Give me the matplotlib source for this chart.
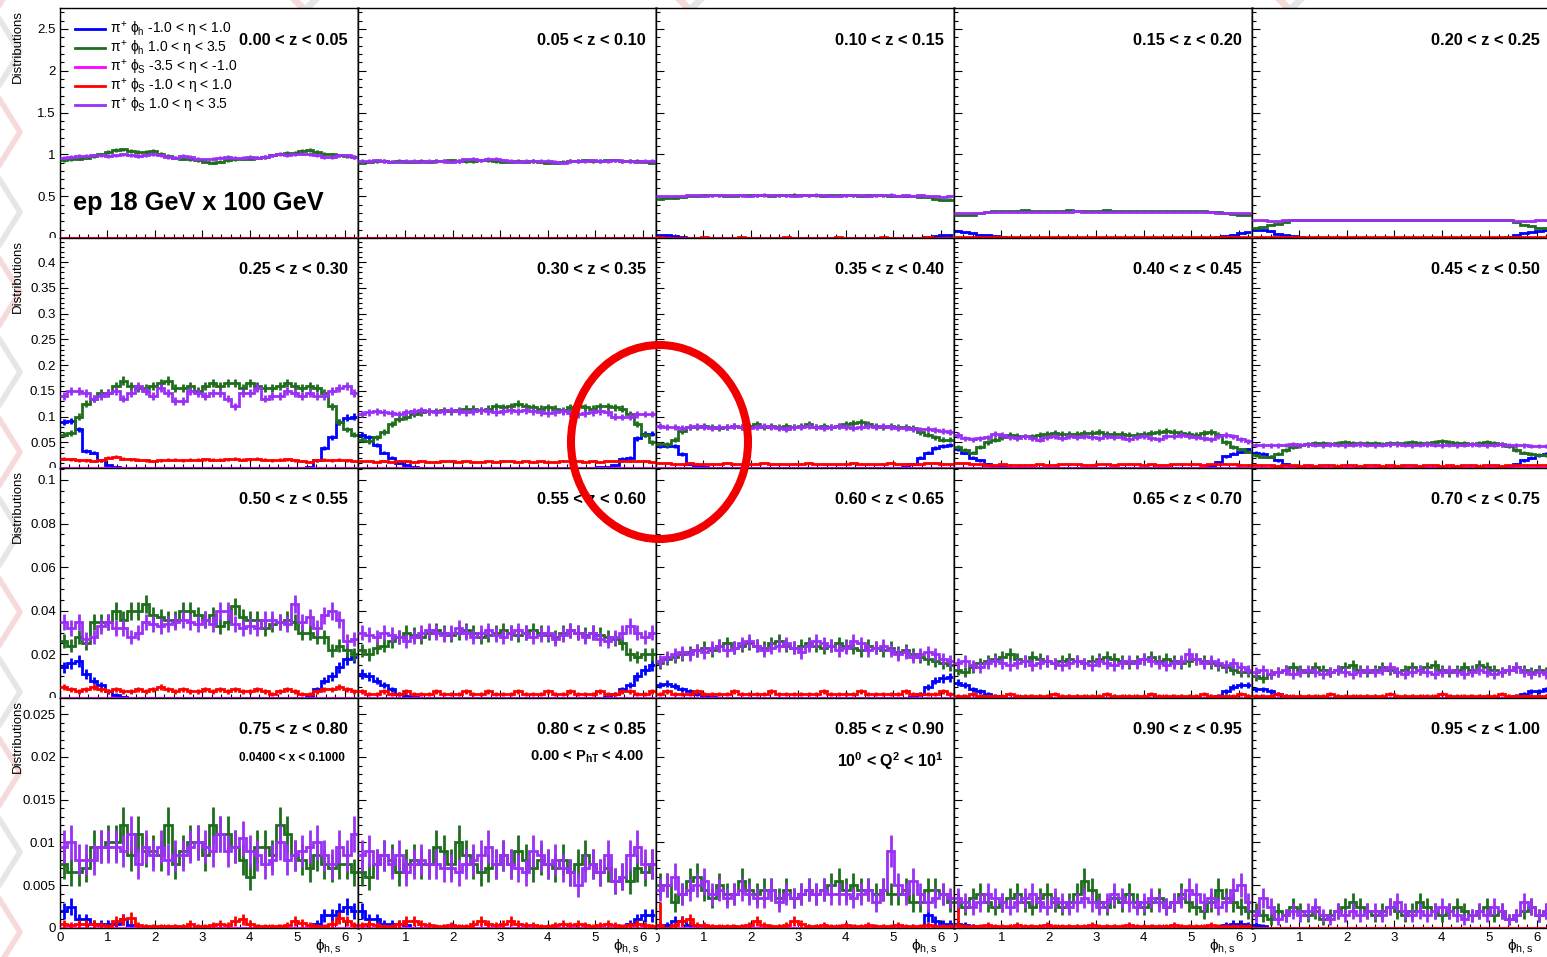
import numpy as np
import matplotlib
matplotlib.use('Agg')
import matplotlib.pyplot as plt
from matplotlib.lines import Line2D
from matplotlib.patches import Ellipse
from matplotlib.ticker import MultipleLocator, FuncFormatter
from matplotlib.transforms import Bbox, TransformedBbox

plt.rcParams['font.family'] = ['Liberation Sans', 'DejaVu Sans']
plt.rcParams['mathtext.fontset'] = 'custom'
plt.rcParams['mathtext.rm'] = 'Liberation Sans'
plt.rcParams['mathtext.it'] = 'Liberation Sans'
plt.rcParams['mathtext.bf'] = 'Liberation Sans:bold'

# ---- labels -------------------------------------------------------------
Z_LABELS = ['0.00 < z < 0.05', '0.05 < z < 0.10', '0.10 < z < 0.15', '0.15 < z < 0.20', '0.20 < z < 0.25',
            '0.25 < z < 0.30', '0.30 < z < 0.35', '0.35 < z < 0.40', '0.40 < z < 0.45', '0.45 < z < 0.50',
            '0.50 < z < 0.55', '0.55 < z < 0.60', '0.60 < z < 0.65', '0.65 < z < 0.70', '0.70 < z < 0.75',
            '0.75 < z < 0.80', '0.80 < z < 0.85', '0.85 < z < 0.90', '0.90 < z < 0.95', '0.95 < z < 1.00']
LEGEND = [r'$\pi^{+}$ $\phi_{h}$ -1.0 < $\eta$ < 1.0',
          r'$\pi^{+}$ $\phi_{h}$ 1.0 < $\eta$ < 3.5',
          r'$\pi^{+}$ $\phi_{S}$ -3.5 < $\eta$ < -1.0',
          r'$\pi^{+}$ $\phi_{S}$ -1.0 < $\eta$ < 1.0',
          r'$\pi^{+}$ $\phi_{S}$ 1.0 < $\eta$ < 3.5']
COLORS = ['#0000ff', '#1e6e1e', '#ff00ff', '#ff0000', '#9a30f5']

# ---- y axes per row ----------------------------------------------------------
ROW_UNIT = [0.01, 0.001, 0.0001, 0.0001]      # values below are in these units
ROW_YMAX = [2.75, 0.447, 0.1055, 0.0269]
ROW_MAJOR = [0.5, 0.05, 0.02, 0.005]
ROW_MINOR = [0.1, 0.01, 0.005, 0.001]

N_BINS = 40
ERR_K = 0.02           # error bar = ERR_K * sqrt(content)
ERR_FIX = {(17, 3, 0): 0.0027, (18, 3, 0): 0.0038}   # (panel, series, bin): error

# ---- histogram contents (one row per z bin) ---------------------------------
BLUE = [
    [0] * 40,
    [0] * 40,
    [3, 3, 2, 1, 0.5, 0.2] + [0] * 28 + [0.2, 0.5, 1, 2, 3, 3],
    [8, 7, 6, 4, 3, 2, 1, 0.5, 0.2] + [0] * 24 + [0.2, 0.5, 1, 2, 4, 6, 7],
    [9, 9, 8, 5, 3, 2, 1, 0.5, 0.2] + [0] * 24 + [0.5, 1, 3, 6, 7, 8, 9],
    [90, 92, 75, 33, 30, 15, 5, 2] + [0] * 25 + [2, 15, 38, 60, 90, 98, 100],
    [65, 60, 45, 30, 20, 10, 5, 2] + [0] * 24 + [1, 2, 5, 18, 20, 58, 66, 67],
    [43, 43, 43, 27, 8, 3, 1] + [0] * 26 + [2, 8, 20, 30, 38, 42, 45],
    [36, 30, 20, 15, 8, 4, 2] + [0] * 27 + [3, 12, 23, 28, 32, 36],
    [30, 28, 22, 15, 8, 4, 2] + [0] * 27 + [3, 8, 15, 20, 25, 28],
    [140, 160, 170, 110, 80, 60, 30, 15, 5] + [0] * 24 + [10, 40, 80, 100, 140, 180, 190],
    [110, 100, 80, 60, 40, 20, 10, 5] + [0] * 25 + [5, 20, 40, 60, 100, 130, 150],
    [60, 65, 55, 40, 30, 20, 10, 5] + [0] * 26 + [5, 20, 50, 80, 90, 95],
    [70, 60, 40, 30, 20, 10, 5] + [0] * 28 + [10, 30, 50, 60, 60],
    [40, 40, 30, 20, 10, 5] + [0] * 29 + [10, 20, 30, 30, 40],
    [20, 25, 10, 10, 5, 5, 5, 5, 10, 3] + [0] * 24 + [5, 15, 15, 20, 25, 20],
    [20, 10, 10, 5, 5, 5, 3] + [0] * 29 + [5, 10, 15, 15],
    [3, 3, 8, 8, 3, 2] + [0] * 30 + [15, 8, 5, 5],
    [5, 3, 2] + [0] * 33 + [3, 5, 5, 3],
    [3, 2] + [0] * 38,
]

GREEN = [
    [93, 94, 95, 96, 98, 100, 103, 105, 106, 104, 103, 103, 104, 101, 98, 96, 95, 94, 93, 91,
     90, 91, 93, 94, 95, 95, 96, 97, 99, 101, 102, 102, 104, 105, 103, 101, 100, 99, 98, 97],
    [90, 91, 92, 92, 91, 92, 91, 91, 92, 91, 92, 92, 93, 92, 92, 92, 93, 93, 92, 91,
     91, 92, 91, 92, 91, 90, 90, 91, 92, 92, 93, 92, 92, 93, 93, 92, 92, 92, 91, 90],
    [47, 48, 48, 49, 50, 50, 51, 51, 51, 50, 50, 51, 51, 51, 51, 50, 51, 51, 52, 51,
     51, 51, 50, 51, 51, 51, 51, 50, 51, 51, 51, 50, 50, 50, 50, 49, 49, 47, 45, 46],
    [27, 27, 28, 30, 31, 32, 32, 32, 32, 33, 32, 32, 32, 32, 32, 33, 32, 32, 32, 32,
     33, 32, 32, 32, 32, 32, 32, 32, 32, 32, 32, 32, 32, 32, 31, 31, 30, 29, 28, 28],
    [12, 13, 16, 17, 19, 21, 21, 22, 22, 22, 22, 22, 22, 22, 22, 22, 22, 22, 22, 22,
     22, 22, 22, 22, 22, 22, 22, 22, 22, 22, 22, 22, 22, 22, 21, 19, 16, 14, 12, 12],
    [65, 68, 100, 125, 135, 145, 145, 160, 170, 160, 155, 155, 160, 165, 170, 155, 155, 160, 150, 160,
     165, 160, 165, 165, 155, 165, 160, 155, 155, 160, 165, 160, 155, 160, 155, 145, 120, 90, 75, 65],
    [55, 52, 60, 70, 85, 95, 100, 105, 108, 110, 110, 112, 110, 112, 115, 115, 112, 115, 120, 118,
     120, 125, 120, 118, 115, 118, 115, 112, 118, 120, 118, 115, 120, 120, 118, 115, 105, 85, 65, 50],
    [47, 46, 55, 72, 80, 80, 82, 80, 78, 80, 82, 80, 82, 85, 80, 82, 80, 82, 80, 82,
     85, 80, 82, 80, 82, 85, 88, 90, 85, 82, 80, 82, 80, 80, 78, 70, 65, 60, 55, 55],
    [40, 35, 30, 40, 50, 55, 60, 65, 63, 62, 62, 64, 66, 68, 66, 66, 66, 68, 68, 70,
     66, 66, 66, 65, 64, 66, 68, 70, 72, 70, 68, 66, 64, 68, 70, 65, 50, 40, 36, 32],
    [25, 22, 22, 28, 35, 40, 44, 46, 48, 48, 47, 48, 50, 48, 48, 49, 48, 47, 48, 49,
     48, 50, 49, 48, 50, 52, 50, 48, 49, 47, 48, 50, 48, 46, 42, 35, 30, 28, 26, 25],
    [260, 240, 280, 250, 350, 350, 350, 400, 360, 400, 400, 430, 380, 370, 360, 360, 400, 400, 380, 360,
     380, 330, 350, 420, 370, 360, 360, 320, 340, 350, 360, 350, 300, 300, 280, 280, 220, 240, 220, 200],
    [220, 200, 230, 240, 260, 280, 300, 290, 280, 300, 310, 300, 290, 300, 310, 300, 280, 290, 300, 310,
     300, 290, 300, 310, 300, 290, 280, 300, 310, 300, 290, 300, 290, 280, 270, 250, 200, 190, 200, 200],
    [160, 180, 190, 200, 210, 220, 230, 220, 240, 250, 230, 240, 250, 240, 230, 250, 260, 240, 230, 240,
     250, 240, 230, 240, 250, 240, 230, 220, 240, 230, 220, 230, 210, 220, 200, 190, 180, 170, 160, 150],
    [130, 120, 140, 160, 170, 180, 190, 200, 180, 170, 190, 180, 170, 160, 170, 180, 170, 160, 170, 180,
     190, 180, 170, 160, 170, 180, 190, 170, 180, 170, 160, 170, 180, 170, 160, 150, 140, 130, 120, 120],
    [100, 90, 110, 120, 130, 140, 130, 120, 140, 130, 120, 130, 140, 150, 130, 120, 130, 140, 130, 120,
     130, 140, 130, 140, 150, 130, 120, 130, 140, 130, 150, 140, 130, 120, 130, 140, 130, 120, 130, 120],
    [75, 65, 65, 70, 95, 95, 100, 100, 120, 85, 110, 90, 90, 85, 120, 75, 90, 100, 100, 85,
     120, 110, 110, 95, 80, 60, 95, 95, 85, 120, 110, 85, 80, 70, 85, 75, 70, 75, 75, 65],
    [65, 60, 75, 85, 80, 65, 75, 80, 75, 75, 95, 90, 75, 100, 85, 75, 65, 70, 75, 85,
     75, 90, 80, 70, 80, 75, 70, 80, 65, 75, 85, 75, 65, 70, 55, 60, 55, 70, 65, 75],
    [50, 50, 30, 40, 55, 60, 45, 35, 50, 40, 40, 55, 45, 40, 45, 45, 35, 45, 35, 40,
     45, 40, 45, 50, 55, 45, 50, 45, 45, 40, 45, 40, 40, 45, 30, 30, 45, 45, 40, 30],
    [30, 25, 35, 40, 30, 25, 30, 35, 40, 30, 25, 35, 40, 30, 25, 30, 40, 55, 45, 30,
     25, 35, 30, 40, 30, 25, 30, 35, 25, 30, 40, 30, 25, 20, 30, 45, 35, 30, 25, 20],
    [20, 15, 10, 20, 15, 25, 20, 15, 20, 10, 15, 20, 25, 30, 25, 20, 15, 20, 25, 20,
     15, 20, 30, 25, 20, 15, 20, 25, 20, 15, 20, 25, 15, 20, 10, 15, 20, 25, 15, 20],
]

# pi+ phi_S -3.5 < eta < -1.0 : empty in every z bin
MAGENTA = [[0] * 40 for _ in range(20)]

RED = [
    [0] * 40,
    [0] * 40,
    [0.6, 0.5, 0.5, 0.4, 0.5, 0.5, 0.6, 0.5, 0.4, 0.5, 0.5, 0.6, 0.5, 0.5, 0.4, 0.5, 0.5, 0.6, 0.5, 0.5,
     0.5, 0.4, 0.5, 0.5, 0.6, 0.5, 0.5, 0.4, 0.5, 0.5, 0.6, 0.5, 0.5, 0.5, 0.4, 0.5, 0.6, 0.5, 0.5, 0.5],
    [1.2, 1.1, 1.0, 1.0, 1.1, 1.0, 0.9, 1.0, 1.1, 1.0, 1.0, 0.9, 1.0, 1.1, 1.0, 1.0, 0.9, 1.0, 1.0, 1.1,
     1.0, 1.0, 0.9, 1.0, 1.0, 1.1, 1.0, 1.0, 0.9, 1.0, 1.0, 1.1, 1.0, 1.0, 1.0, 0.9, 1.0, 1.1, 1.1, 1.0],
    [1.2, 1.1, 1.0, 1.0, 1.0, 1.1, 1.0, 0.9, 1.0, 1.0, 1.1, 1.0, 1.0, 0.9, 1.0, 1.0, 1.1, 1.0, 1.0, 1.0,
     0.9, 1.0, 1.0, 1.1, 1.0, 1.0, 1.0, 0.9, 1.0, 1.0, 1.1, 1.0, 1.0, 1.0, 1.0, 1.1, 1.0, 1.0, 1.1, 1.0],
    [18, 17, 15, 15, 14, 15, 20, 22, 18, 17, 16, 15, 14, 15, 16, 16, 15, 16, 16, 17,
     16, 16, 17, 18, 16, 17, 18, 16, 15, 16, 17, 15, 13, 12, 15, 16, 15, 16, 15, 14],
    [14, 13, 12, 13, 12, 14, 13, 12, 13, 12, 12, 13, 14, 12, 13, 12, 12, 13, 12, 13,
     14, 12, 13, 12, 13, 12, 12, 13, 14, 13, 12, 13, 12, 13, 14, 13, 14, 14, 13, 12],
    [10, 9, 8, 8, 9, 8, 7, 8, 8, 9, 8, 8, 7, 8, 9, 8, 8, 7, 8, 8,
     9, 8, 8, 7, 8, 8, 9, 8, 8, 7, 8, 9, 8, 8, 7, 8, 9, 9, 8, 8],
    [10, 9, 8, 7, 6, 6, 7, 6, 5, 6, 6, 7, 6, 6, 7, 8, 7, 6, 6, 7,
     7, 6, 7, 8, 7, 6, 7, 6, 6, 7, 8, 7, 7, 6, 7, 8, 7, 7, 6, 6],
    [6, 5, 5, 4, 5, 5, 4, 5, 4, 5, 5, 4, 5, 5, 4, 5, 5, 4, 5, 4,
     5, 5, 4, 5, 5, 4, 5, 4, 5, 5, 4, 5, 5, 4, 5, 5, 6, 5, 5, 5],
    [50, 40, 30, 40, 50, 40, 30, 40, 30, 30, 40, 30, 40, 50, 40, 30, 40, 30, 30, 40,
     30, 40, 30, 40, 30, 30, 40, 30, 20, 30, 40, 30, 20, 20, 30, 40, 40, 50, 40, 30],
    [30, 20, 20, 30, 20, 20, 30, 20, 20, 20, 30, 20, 20, 20, 30, 20, 20, 30, 20, 20,
     20, 30, 20, 20, 20, 30, 20, 20, 30, 20, 20, 20, 30, 20, 20, 30, 30, 20, 20, 30],
    [20, 30, 20, 20, 20, 30, 20, 20, 20, 20, 30, 20, 20, 20, 20, 30, 20, 20, 20, 20,
     20, 20, 30, 20, 20, 20, 20, 30, 20, 20, 20, 20, 20, 30, 20, 20, 20, 20, 30, 20],
    [10, 10, 20, 10, 10, 10, 10, 20, 10, 10, 10, 10, 10, 20, 10, 10, 10, 10, 10, 10,
     20, 10, 10, 10, 10, 10, 20, 10, 10, 10, 10, 10, 10, 20, 10, 10, 10, 10, 20, 10],
    [10, 10, 10, 20, 10, 10, 10, 10, 10, 10, 20, 10, 10, 10, 10, 10, 10, 10, 20, 10,
     10, 10, 10, 10, 10, 20, 10, 10, 10, 10, 10, 10, 10, 20, 10, 10, 10, 10, 10, 10],
    [5, 3, 5, 5, 5, 3, 2, 8, 10, 12, 3, 2, 2, 2, 2, 2, 2, 5, 2, 2,
     3, 5, 3, 8, 10, 5, 2, 2, 2, 2, 3, 8, 6, 3, 2, 2, 5, 12, 8, 3],
    [3, 5, 3, 2, 2, 5, 8, 8, 5, 3, 2, 2, 3, 2, 2, 5, 8, 5, 3, 5,
     8, 5, 3, 3, 2, 2, 3, 5, 3, 5, 3, 2, 3, 5, 3, 2, 3, 5, 3, 2],
    [3, 0, 3, 8, 10, 3, 3, 2, 2, 2, 2, 2, 3, 8, 3, 2, 2, 3, 8, 5,
     2, 2, 3, 2, 2, 3, 2, 2, 3, 2, 2, 2, 3, 2, 2, 2, 3, 2, 2, 2],
    [3, 2, 2, 2, 3, 2, 2, 2, 3, 2, 2, 2, 3, 2, 2, 2, 2, 2, 3, 2,
     2, 2, 2, 3, 2, 2, 2, 2, 2, 3, 2, 2, 2, 2, 3, 2, 2, 2, 2, 2],
    [0] * 40,
]

PURPLE = [
    [96, 97, 98, 98, 99, 99, 98, 99, 100, 99, 98, 99, 100, 99, 97, 96, 98, 97, 95, 94,
     95, 96, 97, 96, 96, 97, 96, 97, 99, 100, 99, 100, 101, 100, 99, 97, 97, 99, 99, 97],
    [92, 92, 93, 92, 91, 91, 92, 92, 91, 92, 92, 92, 91, 92, 94, 95, 93, 95, 95, 93,
     92, 91, 92, 92, 92, 92, 91, 90, 92, 92, 92, 93, 92, 92, 93, 92, 92, 91, 92, 92],
    [50, 50, 50, 50, 51, 51, 50, 51, 51, 51, 51, 51, 50, 51, 52, 51, 51, 51, 50, 51,
     51, 52, 51, 50, 50, 51, 51, 51, 50, 51, 51, 52, 50, 51, 50, 51, 50, 50, 49, 50],
    [30, 30, 30, 30, 31, 31, 31, 31, 31, 31, 31, 31, 31, 31, 31, 31, 32, 31, 31, 31,
     31, 31, 31, 31, 31, 31, 31, 31, 31, 31, 31, 31, 31, 31, 31, 30, 30, 30, 30, 30],
    [21, 21, 20, 20, 21, 21, 21, 21, 21, 21, 21, 21, 21, 21, 21, 21, 21, 21, 21, 21,
     21, 21, 21, 21, 21, 21, 21, 21, 21, 21, 21, 21, 21, 21, 21, 20, 20, 20, 21, 21],
    [140, 150, 150, 145, 135, 140, 145, 150, 135, 145, 160, 150, 140, 155, 145, 130, 130, 150, 145, 140,
     145, 145, 135, 120, 145, 145, 155, 135, 140, 140, 150, 145, 140, 145, 140, 140, 150, 155, 160, 145],
    [105, 108, 110, 108, 106, 105, 108, 110, 112, 110, 108, 110, 112, 110, 108, 110, 112, 110, 108, 110,
     112, 110, 112, 110, 108, 106, 108, 110, 106, 104, 106, 108, 110, 108, 100, 99, 100, 104, 105, 105],
    [82, 80, 80, 78, 80, 82, 80, 78, 80, 80, 82, 80, 78, 80, 82, 80, 78, 76, 80, 80,
     82, 80, 78, 80, 82, 80, 78, 80, 82, 80, 82, 80, 78, 78, 76, 75, 76, 74, 72, 70],
    [64, 58, 56, 58, 60, 66, 64, 60, 58, 62, 58, 55, 60, 62, 58, 62, 60, 62, 60, 58,
     62, 60, 60, 56, 60, 62, 58, 56, 62, 62, 64, 62, 60, 58, 56, 62, 64, 62, 56, 52],
    [45, 44, 44, 44, 45, 46, 45, 46, 45, 44, 46, 45, 44, 45, 46, 45, 44, 45, 46, 46,
     45, 44, 45, 46, 45, 44, 45, 44, 45, 46, 45, 44, 45, 46, 45, 44, 44, 43, 42, 42],
    [350, 320, 350, 270, 280, 330, 350, 320, 320, 280, 300, 350, 340, 330, 340, 350, 360, 350, 340, 360,
     340, 400, 400, 340, 320, 330, 320, 360, 360, 350, 340, 430, 350, 370, 320, 380, 400, 360, 260, 270],
    [300, 290, 280, 300, 290, 280, 260, 280, 300, 310, 300, 290, 300, 320, 300, 280, 300, 310, 290, 280,
     300, 310, 300, 280, 290, 300, 270, 290, 310, 300, 280, 300, 270, 260, 280, 300, 330, 300, 280, 300],
    [170, 190, 200, 210, 200, 220, 210, 230, 240, 220, 230, 250, 260, 240, 220, 230, 240, 250, 230, 210,
     240, 260, 250, 240, 220, 230, 260, 250, 220, 230, 240, 220, 200, 210, 190, 200, 210, 200, 180, 170],
    [160, 170, 150, 140, 160, 170, 160, 150, 160, 170, 150, 160, 170, 160, 150, 160, 170, 160, 150, 170,
     160, 150, 160, 170, 160, 180, 170, 160, 150, 160, 170, 200, 180, 160, 170, 160, 150, 160, 140, 130],
    [120, 130, 110, 120, 130, 110, 120, 130, 120, 110, 120, 130, 120, 110, 120, 130, 120, 130, 140, 120,
     110, 120, 130, 120, 110, 120, 130, 120, 110, 120, 130, 120, 110, 120, 130, 140, 120, 110, 120, 110],
    [95, 100, 80, 80, 80, 95, 95, 95, 90, 110, 75, 95, 85, 95, 80, 85, 85, 95, 100, 95,
     90, 110, 90, 95, 105, 90, 85, 75, 80, 100, 80, 85, 90, 95, 100, 85, 75, 95, 85, 110],
    [85, 90, 75, 85, 75, 85, 65, 75, 80, 75, 75, 70, 70, 65, 75, 80, 85, 95, 75, 85,
     75, 70, 65, 90, 85, 75, 80, 70, 65, 50, 70, 75, 65, 85, 55, 60, 85, 95, 75, 75],
    [45, 50, 60, 40, 45, 50, 55, 40, 45, 35, 40, 45, 40, 35, 35, 45, 30, 40, 35, 40,
     45, 40, 45, 40, 40, 40, 35, 40, 45, 30, 45, 90, 50, 40, 55, 40, 30, 35, 40, 35],
    [35, 30, 25, 30, 40, 35, 30, 25, 30, 35, 40, 30, 25, 35, 30, 25, 30, 35, 30, 25,
     30, 40, 35, 30, 25, 30, 35, 30, 25, 30, 35, 45, 40, 30, 35, 25, 30, 45, 50, 30],
    [15, 35, 25, 10, 15, 20, 15, 20, 25, 15, 10, 20, 15, 20, 15, 20, 20, 15, 25, 30,
     20, 15, 20, 15, 20, 25, 20, 15, 10, 15, 20, 15, 25, 20, 10, 15, 30, 25, 15, 20],
]

SERIES = [BLUE, GREEN, MAGENTA, RED, PURPLE]

# ---- geometry (pixels) -------------------------------------------------------
W, H = 1547, 957
X0, PW = 60, 298
Y0, PH = 8, 230
LW = 2.0

EDGES = np.linspace(0, 2 * np.pi, N_BINS + 1)
CENTERS = 0.5 * (EDGES[1:] + EDGES[:-1])

fig = plt.figure(figsize=(W / 100, H / 100), dpi=100)
fig.patch.set_facecolor('white')


def fx(x):
    return x / W


def fy(y):
    return 1 - y / H


# faint slide background pattern in the margins
for i, y0 in enumerate(range(-60, 1000, 80)):
    col = '#f6dada' if i % 2 == 0 else '#e6e6e6'
    fig.add_artist(Line2D([fx(0), fx(20), fx(0)], [fy(y0), fy(y0 + 32), fy(y0 + 64)],
                          color=col, lw=4, zorder=0))
for xc in [305, 690, 1290]:
    fig.add_artist(Line2D([fx(xc - 25), fx(xc + 25)], [fy(-15), fy(35)], color='#f6dada', lw=5, zorder=0))
    fig.add_artist(Line2D([fx(xc + 25), fx(xc - 25)], [fy(-15), fy(35)], color='#e6e6e6', lw=5, zorder=0))

for p in range(20):
    r, c = divmod(p, 5)
    left = X0 + c * PW
    top = Y0 + r * PH
    ax = fig.add_axes([fx(left), fy(top + PH), PW / W, PH / H])
    unit = ROW_UNIT[r]

    for s, (series, color) in enumerate(zip(SERIES, COLORS)):
        vals = np.array(series[p], dtype=float) * unit
        err = ERR_K * np.sqrt(vals)
        for (pp, ss, b), e in ERR_FIX.items():
            if pp == p and ss == s:
                err[b] = e
        ax.stairs(vals, EDGES, baseline=None, color=color, lw=LW, zorder=2 + s)
        ax.errorbar(CENTERS, vals, yerr=err, fmt='none', ecolor=color, elinewidth=LW,
                    capsize=0, zorder=2 + s)

    ax.set_xlim(0, 2 * np.pi)
    ax.set_ylim(0, ROW_YMAX[r])
    ax.xaxis.set_major_locator(MultipleLocator(1))
    ax.xaxis.set_minor_locator(MultipleLocator(0.2))
    ax.yaxis.set_major_locator(MultipleLocator(ROW_MAJOR[r]))
    ax.yaxis.set_minor_locator(MultipleLocator(ROW_MINOR[r]))
    ax.tick_params(which='both', direction='in', top=False, right=False, labelsize=9.5, pad=3,
                   colors='black')
    ax.tick_params(which='major', length=6, width=0.8)
    ax.tick_params(which='minor', length=3, width=0.8)
    ax.tick_params(labelleft=(c == 0), labelbottom=(r == 3))

    row = r
    ax.yaxis.set_major_formatter(FuncFormatter(
        lambda v, pos, row=row: '' if (abs(v) < 1e-12 and row < 3) else f'{v:g}'))
    col_i = c
    ax.xaxis.set_major_formatter(FuncFormatter(
        lambda v, pos, col_i=col_i: '' if (abs(v) < 1e-12 and col_i > 0) else f'{v:g}'))

    for side in ['left', 'bottom', 'top']:
        ax.spines[side].set_linewidth(1.0)
        ax.spines[side].set_color('black')
    ax.spines['right'].set_linewidth(2.0)
    ax.spines['right'].set_color('#8a8a8a')

    ax.text(1 - 10 / PW, 1 - 32 / PH, Z_LABELS[p], transform=ax.transAxes, ha='right', va='center',
            fontsize=11.8, fontweight='bold')

    # "0" labels partly hidden by the neighbouring pad
    if c == 0 and r < 3:
        t = fig.text(fx(left - 4), fy(top + PH), '0', ha='right', va='center', fontsize=9.5)
        t.set_clip_box(TransformedBbox(Bbox([[0, fy(top + PH)], [fx(left), 1]]), fig.transFigure))
        t.set_clip_on(True)
    if r == 3 and c > 0:
        t = fig.text(fx(left), fy(top + PH + 11), '0', ha='center', va='center', fontsize=9.5)
        t.set_clip_box(TransformedBbox(Bbox([[fx(left), 0], [1, 1]]), fig.transFigure))
        t.set_clip_on(True)
    if r == 3:
        ax.text(0.945, -19 / PH, r'$\phi_{h,s}$', transform=ax.transAxes, ha='right', va='center',
                fontsize=11)

    if p == 0:
        for i, (lab, color) in enumerate(zip(LEGEND, COLORS)):
            ay = 1 - (29 + 19 * i - Y0) / PH
            ax.add_line(Line2D([15 / PW, 45 / PW], [ay, ay], transform=ax.transAxes, color=color,
                               lw=LW, clip_on=False))
            ax.text(50 / PW, ay, lab, transform=ax.transAxes, ha='left', va='center', fontsize=10)
        ax.text((73 - X0) / PW, 1 - (203 - Y0) / PH, 'ep 18 GeV x 100 GeV', transform=ax.transAxes,
                ha='left', va='center', fontsize=18.3, fontweight='bold')
    if p == 15:
        ax.text(1 - 13 / PW, 1 - (758 - top) / PH, '0.0400 < x < 0.1000', transform=ax.transAxes,
                ha='right', va='center', fontsize=8.5, fontweight='bold')
    if p == 16:
        ax.text(1 - 11 / PW, 1 - (757 - top) / PH, r'0.00 < P$_{\mathbf{hT}}$ < 4.00',
                transform=ax.transAxes, ha='right', va='center', fontsize=10.5, fontweight='bold')
    if p == 17:
        ax.text(1 - 11 / PW, 1 - (761 - top) / PH,
                r'10$^{\mathbf{0}}$ < Q$^{\mathbf{2}}$ < 10$^{\mathbf{1}}$',
                transform=ax.transAxes, ha='right', va='center', fontsize=11.5, fontweight='bold')

for r in range(4):
    fig.text(fx(18), fy(Y0 + r * PH + 2), 'Distributions', rotation=90, ha='center', va='top',
             fontsize=9.5)

# hand-drawn highlight
fig.add_artist(Ellipse((fx(659.5), fy(442)), 177 / W, 194 / H, transform=fig.transFigure,
                       fill=False, ec='#f20000', lw=5.8, zorder=20))

fig.savefig('out.png', dpi=100)
